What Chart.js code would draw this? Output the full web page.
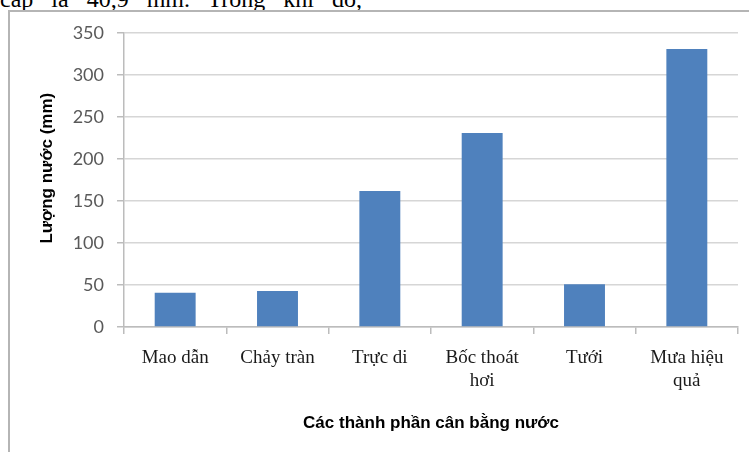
<!DOCTYPE html>
<html lang="vi">
<head>
<meta charset="utf-8">
<script src="https://cdn.jsdelivr.net/npm/chart.js@4.4.0/dist/chart.umd.min.js"></script>
<style>
  html, body { margin: 0; padding: 0; background: #fff; overflow: hidden; }
  #trang { position: relative; width: 749px; height: 452px; overflow: hidden; }
  /* dòng văn bản phía trên khung biểu đồ, bị cắt một nửa */
  #doan {
    position: absolute; left: 0; top: -13px;
    font-family: 'Liberation Serif', serif; font-size: 24px; line-height: 24px;
    word-spacing: 12px; white-space: nowrap; color: #000;
  }
  #khung {
    position: absolute; left: 8px; top: 10px; width: 760px; height: 460px;
    border-left: 2px solid #b5b5b5; border-top: 2px solid #b5b5b5;
  }
  #bieudo { position: absolute; left: 0; top: 0; }
</style>
</head>
<body>
<div id="trang">
  <div id="doan">cấp là 40,9 mm. Trong khi đó,</div>
  <div id="khung"></div>
  <canvas id="bieudo" width="749" height="452"></canvas>
</div>
<script>
// Thành phần cân bằng nước (mm)
const thanhPhan = ['Mao dẫn', 'Chảy tràn', 'Trực di', ['Bốc thoát', 'hơi'], 'Tưới', ['Mưa hiệu', 'quả']];
const luongNuoc = [40.9, 43, 162, 231, 51, 331];
const mocTrucY = [0, 50, 100, 150, 200, 250, 300, 350];

const mauCot = '#4f81bd';
const mauLuoi = '#d6d6d6';
const mauTruc = '#bcbcbc';

new Chart(document.getElementById('bieudo'), {
  type: 'bar',
  data: {
    labels: thanhPhan,
    datasets: [{
      data: luongNuoc,
      backgroundColor: mauCot,
      borderWidth: 0,
      categoryPercentage: 0.4,
      barPercentage: 1
    }]
  },
  options: {
    responsive: false,
    animation: false,
    layout: { padding: { top: 33, right: 11, left: 0, bottom: 0 } },
    plugins: {
      legend: { display: false },
      tooltip: { enabled: false }
    },
    scales: {
      y: {
        min: mocTrucY[0],
        max: mocTrucY[mocTrucY.length - 1],
        afterFit(scale) { scale.width = 124; },
        afterBuildTicks(scale) { scale.ticks = mocTrucY.map(v => ({ value: v })); },
        ticks: {
          padding: 13,
          color: '#595959',
          font: { family: 'Lato', size: 18 }
        },
        grid: { color: mauLuoi, lineWidth: 1.5, tickLength: 7, tickColor: mauTruc },
        border: { color: mauTruc, width: 1.5 },
        title: {
          display: true,
          // khoảng trắng đầu dòng đẩy tiêu đề lên cao hơn tâm trục
          text: '     Lượng nước (mm)',
          color: '#000',
          font: { family: 'Liberation Sans', size: 17, weight: 'bold' },
          padding: { top: 37, bottom: 0 }
        }
      },
      x: {
        afterFit(scale) { scale.height = 125; },
        ticks: {
          padding: 13,
          color: '#1a1a1a',
          maxRotation: 0,
          autoSkip: false,
          font: { family: 'Liberation Serif', size: 19 }
        },
        grid: { drawOnChartArea: false, tickLength: 7, color: mauTruc, lineWidth: 1.5 },
        border: { color: mauTruc, width: 1.5 },
        title: {
          display: true,
          text: 'Các thành phần cân bằng nước',
          color: '#000',
          font: { family: 'Liberation Sans', size: 17, weight: 'bold' },
          padding: { top: 0, bottom: 18 }
        }
      }
    }
  }
});
</script>
</body>
</html>
